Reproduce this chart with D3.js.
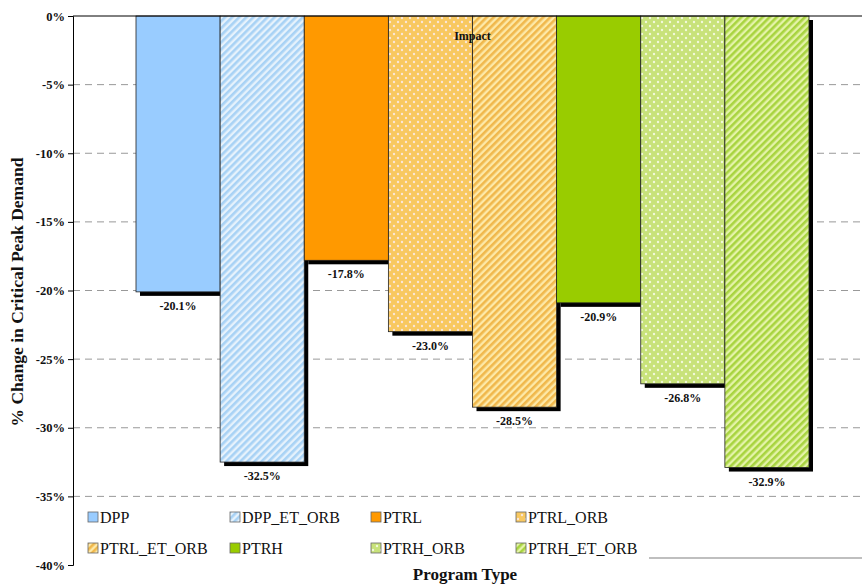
<!DOCTYPE html>
<html lang="en">
<head>
  <meta charset="UTF-8">
  <title>Critical Peak Demand Impact</title>
  <style>
    body, html { margin: 0; padding: 0; background: #fff; }
    svg { display: block; }
  </style>
</head>
<body>
  <svg id="svg" width="862" height="585"></svg>

  <script src="https://cdn.jsdelivr.net/npm/d3@7"></script>
  <script>
    // data
    const programs = ['DPP', 'DPP_ET_ORB', 'PTRL', 'PTRL_ORB', 'PTRL_ET_ORB', 'PTRH', 'PTRH_ORB', 'PTRH_ET_ORB'];
    const impact = [-20.1, -32.5, -17.8, -23.0, -28.5, -20.9, -26.8, -32.9];
    const yTicks = [0, -5, -10, -15, -20, -25, -30, -35, -40];
    const category = 'Impact';

    const serif = "'Liberation Serif', 'Times New Roman', Times, 'DejaVu Serif', serif";

    const svg = d3.select('#svg').style('font-family', serif);
    const defs = svg.append('defs');

    // fills: solid, dotted or striped
    const style = {
      DPP:         { kind: 'solid', c: '#99ccff' },
      DPP_ET_ORB:  { kind: 'stripe', c: '#a8d2f5', bg: '#e6f2fc' },
      PTRL:        { kind: 'solid', c: '#ff9900' },
      PTRL_ORB:    { kind: 'dots', c: '#f8c860', dot: '#fbe6d8' },
      PTRL_ET_ORB: { kind: 'stripe', c: '#f0b84c', bg: '#fde9a8' },
      PTRH:        { kind: 'solid', c: '#99cc00' },
      PTRH_ORB:    { kind: 'dots', c: '#c8e27a', dot: '#f2f9dc' },
      PTRH_ET_ORB: { kind: 'stripe', c: '#a8d440', bg: '#e4f3a8' }
    };

    programs.forEach(p => {
      const s = style[p];
      if (s.kind === 'stripe') {
        const pat = defs.append('pattern')
          .attr('id', 'pat-' + p)
          .attr('patternUnits', 'userSpaceOnUse')
          .attr('width', 5).attr('height', 5)
          .attr('patternTransform', 'rotate(-45)');
        pat.append('rect').attr('width', 5).attr('height', 5).attr('fill', s.bg);
        pat.append('rect').attr('width', 5).attr('height', 2.6).attr('fill', s.c);
      } else if (s.kind === 'dots') {
        const pat = defs.append('pattern')
          .attr('id', 'pat-' + p)
          .attr('patternUnits', 'userSpaceOnUse')
          .attr('width', 8).attr('height', 8);
        pat.append('rect').attr('width', 8).attr('height', 8).attr('fill', s.c);
        pat.append('circle').attr('cx', 2).attr('cy', 2).attr('r', 1.2).attr('fill', s.dot);
        pat.append('circle').attr('cx', 6).attr('cy', 6).attr('r', 1.2).attr('fill', s.dot);
      }
    });
    const fillOf = p => style[p].kind === 'solid' ? style[p].c : `url(#pat-${p})`;

    const plotLeft = 73, plotRight = 862, plotTop = 16, plotBottom = 565;

    const y = d3.scaleLinear().domain([-40, 0]).range([plotBottom, plotTop]);
    const x = d3.scaleBand().domain(programs).range([136, 809]).padding(0);

    // gridlines
    svg.append('g')
      .selectAll('line')
      .data(yTicks.filter(t => t < 0 && t > -40))
      .join('line')
      .attr('x1', plotLeft).attr('x2', plotRight)
      .attr('y1', d => y(d)).attr('y2', d => y(d))
      .attr('stroke', '#999')
      .attr('stroke-width', 1)
      .attr('stroke-dasharray', '7,5');

    // y axis
    const yAxis = svg.append('g')
      .attr('transform', `translate(${plotLeft},0)`)
      .call(d3.axisLeft(y).tickValues(yTicks).tickSize(5).tickPadding(3).tickFormat(d => d + '%'));
    yAxis.attr('font-family', null);
    yAxis.select('.domain').attr('stroke', '#000');
    yAxis.selectAll('text')
      .attr('font-size', 12.5)
      .attr('font-weight', 'bold')
      .attr('fill', '#111');

    const data = programs.map((p, i) => ({ p, v: impact[i] }));

    // shadows first
    svg.append('g')
      .selectAll('rect')
      .data(data)
      .join('rect')
      .attr('x', d => x(d.p) + 4)
      .attr('y', y(0) + 4)
      .attr('width', x.bandwidth())
      .attr('height', d => y(d.v) - y(0))
      .attr('fill', '#000');

    svg.append('g')
      .selectAll('rect')
      .data(data)
      .join('rect')
      .attr('x', d => x(d.p))
      .attr('y', y(0))
      .attr('width', x.bandwidth())
      .attr('height', d => y(d.v) - y(0))
      .attr('fill', d => fillOf(d.p))
      .attr('stroke', '#222')
      .attr('stroke-width', 0.8);

    // zero line
    svg.append('line')
      .attr('x1', plotLeft).attr('x2', plotRight)
      .attr('y1', y(0)).attr('y2', y(0))
      .attr('stroke', '#000').attr('stroke-width', 1);

    // value labels
    svg.append('g')
      .selectAll('text')
      .data(data)
      .join('text')
      .attr('x', d => x(d.p) + x.bandwidth() / 2)
      .attr('y', d => y(d.v) + 18)
      .attr('text-anchor', 'middle')
      .attr('font-size', 12)
      .attr('font-weight', 'bold')
      .attr('fill', '#111')
      .text(d => d.v.toFixed(1) + '%');

    // category label
    svg.append('text')
      .attr('x', (x.range()[0] + x.range()[1]) / 2)
      .attr('y', 40)
      .attr('text-anchor', 'middle')
      .attr('font-size', 12)
      .attr('font-weight', 'bold')
      .attr('fill', '#111')
      .text(category);

    // axis titles
    svg.append('text')
      .attr('transform', 'translate(23,292) rotate(-90)')
      .attr('text-anchor', 'middle')
      .attr('font-size', 17.5)
      .attr('font-weight', 'bold')
      .attr('fill', '#111')
      .text('% Change in Critical Peak Demand');

    svg.append('text')
      .attr('x', 465)
      .attr('y', 580)
      .attr('text-anchor', 'middle')
      .attr('font-size', 17)
      .attr('font-weight', 'bold')
      .attr('fill', '#111')
      .text('Program Type');

    // legend
    const colX = [88, 230, 371, 516];
    const rowY = [517, 548];
    const leg = svg.append('g')
      .selectAll('g')
      .data(programs)
      .join('g')
      .attr('transform', (d, i) => `translate(${colX[i % 4]},${rowY[Math.floor(i / 4)]})`);
    leg.append('rect')
      .attr('x', 0).attr('y', -5)
      .attr('width', 10).attr('height', 10)
      .attr('fill', d => fillOf(d))
      .attr('stroke', '#666')
      .attr('stroke-width', 0.8);
    leg.append('text')
      .attr('x', 12)
      .attr('y', 5.5)
      .attr('font-size', 16)
      .attr('fill', '#111')
      .text(d => d);

    // stray grey rule at bottom right
    svg.append('line')
      .attr('x1', 649).attr('x2', 862)
      .attr('y1', 558).attr('y2', 558)
      .attr('stroke', '#aaa').attr('stroke-width', 1.5);
  </script>
</body>
</html>
